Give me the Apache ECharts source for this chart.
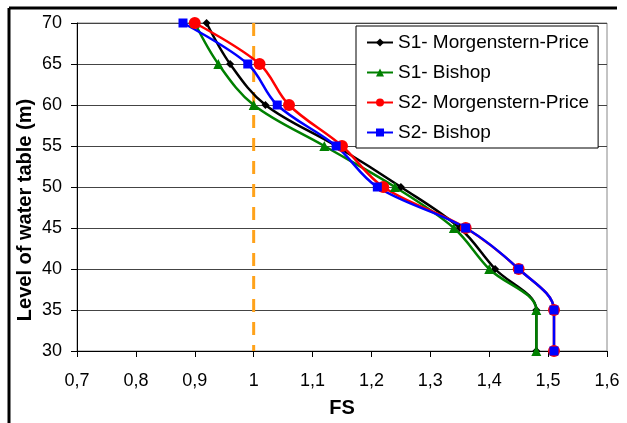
<!DOCTYPE html>
<html>
<head>
<meta charset="utf-8">
<script src="https://cdn.jsdelivr.net/npm/echarts@6/dist/echarts.min.js"></script>
<style>
  html, body { margin: 0; padding: 0; background: #fff; }
  #main { width: 627px; height: 423px; }
</style>
</head>
<body>
<div id="main"></div>
<script>
// water table levels (m), top to bottom
var levels = [70, 65, 60, 55, 50, 45, 40, 35, 30];
// factor of safety
var s1Morgenstern = [0.92, 0.96, 1.02, 1.14, 1.25, 1.35, 1.41, 1.48, 1.48];
var s1Bishop      = [0.90, 0.94, 1.00, 1.12, 1.24, 1.34, 1.40, 1.48, 1.48];
var s2Morgenstern = [0.90, 1.01, 1.06, 1.15, 1.22, 1.36, 1.45, 1.51, 1.51];
var s2Bishop      = [0.88, 0.99, 1.04, 1.14, 1.21, 1.36, 1.45, 1.51, 1.51];
var seriesNames = ['S1- Morgenstern-Price', 'S1- Bishop', 'S2- Morgenstern-Price', 'S2- Bishop'];
// dashed FS = 1 limit, drawn top to bottom
var limitFS = [1, 1];
var limitLevels = [70, 30];

var font = 'Liberation Sans, Arial, sans-serif';

function pairs(xs, ys) {
    return xs.map(function (x, i) { return [x, ys[i]]; });
}

function curve(name, values, color, symbol, size) {
    return {
        name: name,
        type: 'line',
        data: pairs(values, levels),
        smooth: 0.35,
        symbol: symbol,
        symbolSize: size,
        lineStyle: { color: color, width: 2.5 },
        itemStyle: { color: color },
        emphasis: { disabled: true }
    };
}

var myChart = echarts.init(document.getElementById('main'));

var option = {
    animation: false,
    backgroundColor: '#fff',
    textStyle: { fontFamily: font, color: '#000' },
    grid: {
        left: 77, right: 20, top: 23, bottom: 69,
        show: true, borderColor: '#888', borderWidth: 1, backgroundColor: '#fff'
    },
    legend: {
        data: seriesNames,
        orient: 'vertical',
        left: 356, top: 26,
        itemWidth: 26, itemHeight: 10, itemGap: 11,
        padding: [7, 9, 6, 10],
        borderColor: '#000', borderWidth: 1, backgroundColor: '#fff',
        textStyle: { fontFamily: font, fontSize: 19, color: '#000' }
    },
    xAxis: {
        type: 'value',
        min: 0.7, max: 1.6, interval: 0.1,
        name: 'FS',
        nameLocation: 'middle',
        nameGap: 47,
        nameTextStyle: { fontFamily: font, fontSize: 20, fontWeight: 'bold', color: '#000' },
        axisLine: { show: true, onZero: false, lineStyle: { color: '#000', width: 1 } },
        axisTick: { show: true, length: 6, lineStyle: { color: '#000' } },
        axisLabel: {
            margin: 21, fontSize: 18, color: '#000', fontFamily: font,
            formatter: function (v) { return String(+v.toFixed(1)).replace('.', ','); }
        },
        splitLine: { show: false }
    },
    yAxis: {
        type: 'value',
        min: 30, max: 70, interval: 5,
        axisLine: { show: true, onZero: false, lineStyle: { color: '#000', width: 1 } },
        axisTick: { show: true, length: 6, lineStyle: { color: '#000' } },
        axisLabel: { margin: 15, fontSize: 18, color: '#000', fontFamily: font },
        splitLine: { show: true, lineStyle: { color: '#444', width: 1 } }
    },
    graphic: [
        {
            type: 'text',
            x: 25, y: 210,
            rotation: Math.PI / 2,
            style: {
                text: 'Level of water table (m)',
                fontFamily: font, fontSize: 20, fontWeight: 'bold',
                fill: '#000', align: 'center', verticalAlign: 'middle'
            }
        },
        { type: 'line', shape: { x1: 9, y1: 8, x2: 617, y2: 8 }, style: { stroke: '#000', lineWidth: 3 } },
        { type: 'line', shape: { x1: 9, y1: 8, x2: 9, y2: 423 }, style: { stroke: '#000', lineWidth: 3 } }
    ],
    series: [
        {
            name: 'FS = 1',
            type: 'line',
            data: pairs(limitFS, limitLevels),
            symbol: 'none',
            silent: true,
            lineStyle: { color: '#ffa21a', width: 3, type: [13, 10] },
            z: 1
        },
        curve(seriesNames[0], s1Morgenstern, '#000000', 'diamond', 8),
        curve(seriesNames[1], s1Bishop, '#008000', 'triangle', 10),
        curve(seriesNames[2], s2Morgenstern, '#ff0000', 'circle', 12),
        curve(seriesNames[3], s2Bishop, '#0000ff', 'rect', 9)
    ]
};

myChart.setOption(option);
</script>
</body>
</html>
